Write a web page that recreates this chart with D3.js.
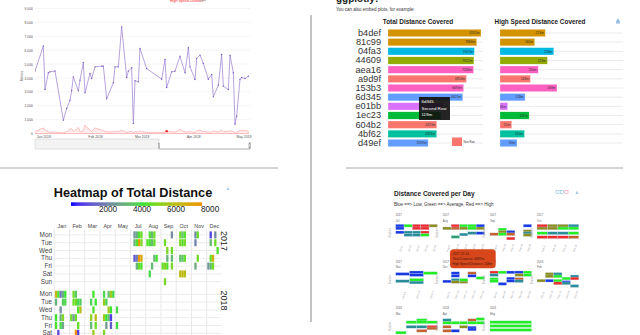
<!DOCTYPE html>
<html><head><meta charset="utf-8">
<script src="https://cdn.jsdelivr.net/npm/d3@7"></script>
<style>body{margin:0;background:#fff;overflow:hidden}svg{display:block}</style>
</head><body>
<svg id="c" width="640" height="335"></svg>
<script>
// ---------------- DATA ----------------
// daily total distance (m) – used by the heatmap and the line chart
const dayDates = [
"2017-07-03","2017-07-10","2017-07-17","2017-07-24","2017-07-04","2017-07-11","2017-07-18","2017-07-25",
"2017-07-06","2017-07-13","2017-07-20","2017-07-27","2017-07-14","2017-07-21","2017-07-28",
"2017-08-07","2017-08-14","2017-08-21","2017-08-01","2017-08-08","2017-08-15","2017-08-22","2017-08-24",
"2017-08-31","2017-08-18","2017-08-12",
"2017-09-25","2017-09-05","2017-09-13","2017-09-27","2017-09-28","2017-09-29","2017-09-14","2017-09-01",
"2017-09-08","2017-09-15","2017-09-10",
"2017-10-02","2017-10-09","2017-10-16","2017-10-03","2017-10-10","2017-10-17","2017-10-05","2017-10-12",
"2017-10-19","2017-10-07","2017-10-14","2017-10-21",
"2017-11-06","2017-11-13","2017-11-07","2017-11-16","2017-11-10",
"2017-12-04","2017-12-18","2017-12-05","2017-12-19","2017-12-07","2017-12-14","2017-12-01","2017-12-08","2017-12-15",
"2017-12-27","2018-01-01","2018-01-02","2018-01-04","2018-01-05","2018-01-08","2018-01-13","2018-01-15",
"2018-01-17","2018-01-18","2018-01-19","2018-01-22","2018-01-23","2018-01-25","2018-01-26","2018-01-29",
"2018-01-30","2018-02-01","2018-02-05","2018-02-06","2018-02-08","2018-02-12","2018-02-13","2018-02-15",
"2018-02-17","2018-02-20","2018-02-21","2018-02-23","2018-02-24","2018-02-25","2018-02-27","2018-02-28",
"2018-03-04","2018-03-13","2018-03-15","2018-03-16","2018-03-19","2018-03-21","2018-03-24","2018-03-27",
"2018-03-29","2018-03-30","2018-04-02","2018-04-03","2018-04-05","2018-04-07","2018-04-10","2018-04-12",
"2018-04-13","2018-04-16","2018-04-18","2018-04-19","2018-04-22","2018-04-23","2018-04-25","2018-04-26",
"2018-04-27","2018-04-29","2018-04-30","2018-05-02","2018-05-04"];
const dayTotals = [
2500,3000,4500,4800,3200,4500,7400,5000,
1000,2000,7500,7000,3200,4700,4500,
4500,3300,4800,4600,4400,3400,4700,3200,
4400,3300,4000,
2300,4800,5000,4800,3300,5000,3200,4700,
5200,4500,5000,
4800,3500,4600,5000,4600,4900,3600,3500,
4700,6200,6400,6100,
2200,4700,2100,4800,3000,
800,2200,3300,4800,4700,6687,2500,3300,4800,
4500,6300,3170,4370,4440,4500,960,1800,
2400,3100,4080,3070,3840,5110,2930,4320,
3960,4800,4850,4850,2500,3650,4800,4800,
7680,4030,4490,4730,720,3800,3720,6120,
4680,3910,5330,3310,4440,4490,5570,4370,
6170,4800,3890,5400,5640,5040,3910,4250,
2640,3480,5690,3410,3170,5640,4370,670,
1250,3890,4030,3960,4130];
// high speed distance (m) for the zoomed window of the line chart
const speedDates = ["2017-12-27","2018-01-01","2018-01-02","2018-01-04","2018-01-05","2018-01-08","2018-01-13",
"2018-01-15","2018-01-17","2018-01-18","2018-01-19","2018-01-22","2018-01-23","2018-01-25","2018-01-26",
"2018-01-29","2018-01-30","2018-02-01","2018-02-05","2018-02-06","2018-02-08","2018-02-12","2018-02-13",
"2018-02-15","2018-02-17","2018-02-20","2018-02-21","2018-02-23","2018-02-24","2018-02-25","2018-02-27",
"2018-02-28","2018-03-04","2018-03-13","2018-03-15","2018-03-16","2018-03-19","2018-03-21","2018-03-24",
"2018-03-27","2018-03-29","2018-03-30","2018-04-02","2018-04-03","2018-04-05","2018-04-07","2018-04-10",
"2018-04-12","2018-04-13","2018-04-16","2018-04-18","2018-04-19","2018-04-22","2018-04-23","2018-04-25",
"2018-04-26","2018-04-27","2018-04-29","2018-04-30","2018-05-02","2018-05-04"];
const speedValues = [150,400,250,120,100,100,50,150,290,360,150,430,120,200,600,240,150,400,250,200,120,120,150,
150,240,80,120,150,60,150,100,180,80,80,100,170,120,100,290,120,120,150,60,200,240,150,100,120,200,100,240,
150,150,200,150,60,80,250,200,220,150];
const yTicks = [0,1000,2000,3000,4000,5000,6000,7000,8000,9000];

// players bar chart
const players = ["b4def","81c99","04fa3","44609","aea16","a9d9f","153b3","6d345","e01bb","1ec23","604b2","4bf62","d49ef"];
const totalDist = [8241,7866,7657,7612,7583,6954,6694,6625,4900,4700,4323,4313,3559];
const highDist = [213,163,253,223,180,143,268,118,36,137,55,115,80];
const playerColors = ["#D39200","#D39200","#00B9E3","#93AA00","#FF61C3","#F8766D","#FF61C3","#619CFF","#DB72FB","#00BA38","#F8766D","#00C19F","#619CFF"];

// heatmap
const weekdays = ["Mon","Tue","Wed","Thu","Fri","Sat","Sun"];
const heatMonths = ["Jan","Feb","Mar","Apr","May","Jul","Aug","Sep","Oct","Nov","Dec"];
const heatYears = [2017,2018];
const legendTicks = [2000,4000,6000,8000];

// distance per day small multiples
const facetYears = [2017,2017,2017,2017,2017,2017,2018,2018,2018,2018,2018];
const facetMonths = ["Jul","Aug","Sep","Oct","Nov","Dec","Jan","Feb","Mar","Apr","May"];
const facetSlots = [5,5,5,4,3,5,5,5,4,5,1];
// [facet, bucket, from, to, level]
const segments = [
[0,0,0,1,"B"],[0,1,0,1,"B"],[0,0,1,2,"G"],[0,0,2,3,"R"],[0,1,2,3,"R"],[0,0,3,4,"R"],[0,1,3,4,"R"],[0,0,4,5,"O"],
[0,2.5,0,1,"B"],[0,2.5,1,2,"T"],[0,3.5,1,2,"T"],[0,2.5,2,3,"T"],[0,3.5,2,3,"T"],[0,2.5,3,4,"R"],[0,3.5,3,4,"G"],
[1,0,1,2,"R"],[1,0,2,3,"G"],[1,0,3,4,"G"],[1,0,4,5,"B"],[1,1,0,1,"O"],[1,1,1,2,"Br"],[1,1,2,3,"O"],[1,1,3,4,"G"],[1,1,4,5,"O"],
[1,2.8,3,4,"T"],[1,2.8,4,5,"B"],[1,3.3,2,3,"T"],[1,4.2,1,2,"Tg"],
[2,0,4,5,"B"],[2,1.4,1,2,"G"],[2,2.3,1,2,"O"],[2,2.3,2,3,"B"],[2,3.2,0,1,"Br"],[2,3.2,1,2,"G"],[2,3.2,2,3,"Br"],
[2,4.8,2,3,"R"],[2,2,4,5,"O"],[2,2.8,4,5,"T"],[2,3.5,4,5,"O"],
[3,0,0,1,"R"],[3,0,1,2,"O"],[3,0,2,3,"O"],[3,0,3,4,"T"],[3,1,0,1,"O"],[3,1,1,2,"O"],[3,1,2,3,"G"],[3,1,3,4,"G"],
[3,2.8,0,1,"G"],[3,2.8,1,2,"T"],[3,2.8,2,3,"T"],[3,2.8,3,4,"G"],[3,4.3,0,1,"R"],[3,4.3,1,2,"R"],[3,4.3,2,3,"R"],[3,4.3,3,4,"Br"],
[4,0.6,0,1,"B"],[4,0,1,2,"B"],[4,1,1,2,"B"],[4,0.3,2,3,"G"],[4,3.3,0,1,"T"],[4,2.8,1,2,"G"],[4,3.8,1,2,"T"],
[5,0.3,1,2,"B"],[5,1.3,1,2,"B"],[5,0.3,3,4,"Br"],[5,1.3,3,4,"B"],[5,2.1,4,5,"G"],[5,3.4,0,1,"B"],[5,2.8,1,2,"T"],
[5,3.6,1,2,"O"],[5,3.6,2,3,"O"],[5,2.8,2,3,"G"],
[6,0,0,1,"R"],[6,0,1,2,"G"],[6,0,2,3,"B"],[6,0,3,4,"B"],[6,0,4,5,"G"],[6,1,0,1,"T"],[6,1,3,4,"O"],[6,1,4,5,"G"],
[6,2.3,2,3,"B"],[6,3.2,2,3,"B"],[6,2.5,0,1,"G"],[6,3.3,0,1,"G"],[6,2.5,3,4,"Br"],[6,3.3,3,4,"T"],[6,4.3,1,2,"B"],
[7,0.6,1,2,"O"],[7,0.6,2,3,"T"],[7,1.5,1,2,"O"],[7,1.5,2,3,"G"],[7,1.5,4,5,"T"],[7,2.3,3,4,"G"],[7,2.3,4,5,"R"],
[7,3.1,0,1,"O"],[7,3.1,1,2,"B"],[7,3.1,2,3,"G"],[7,4.1,2,3,"R"],[7,3.6,3,4,"B"],[7,4.1,3,4,"T"],[7,5.1,4,5,"T"],
[8,0.4,2,3,"G"],[8,1.2,1,2,"G"],[8,1.2,2,3,"G"],[8,1.2,3,4,"G"],[8,2.9,1,2,"T"],[8,2.9,2,3,"T"],[8,2.9,3,4,"R"],
[8,3.5,3,4,"Br"],[8,4.4,2,3,"Br"],[8,5.1,0,1,"G"],
[9,0.4,0,1,"T"],[9,0.4,3,4,"Br"],[9,0,4,5,"G"],[9,1.4,0,1,"G"],[9,1.4,1,2,"G"],[9,1.4,2,3,"G"],[9,1.4,3,4,"G"],[9,1.4,4,5,"G"],
[9,2.9,0,1,"Br"],[9,2.9,2,3,"O"],[9,3.2,3,4,"B"],[9,3.9,3,4,"B"],[9,4.4,0,1,"Br"],[9,4.4,1,2,"B"],
[10,1.2,0,1,"G"],[10,2.6,0,1,"G"],[10,4.1,0,1,"G"]];
const levelColors = {B:"#1838e0",G:"#22ee22",R:"#ee2a2a",O:"#8d8d1e",T:"#2a8c96",Br:"#c4632e",Tg:"#2aa070"};

// ---------------- DRAW ----------------
const FONT = '"Liberation Sans", Arial, Helvetica, sans-serif';
const svg = d3.select("#c").attr("font-family", FONT);
const parse = d3.timeParse("%Y-%m-%d");

// ===== Panel 1 : line chart =====
const g1 = svg.append("g");
const lx = d3.scaleTime().domain([parse("2017-12-27"), parse("2018-05-05")]).range([35, 250]);
const ly = d3.scaleLinear().domain([0, 9000]).range([133.5, 8.5]);
g1.append("g").selectAll("line").data(yTicks).join("line")
  .attr("x1", 35).attr("x2", 250).attr("y1", d => ly(d)).attr("y2", d => ly(d))
  .attr("stroke", "#eeeeee").attr("stroke-width", 0.6);
const yAx = g1.append("g").attr("transform", "translate(34,0)")
  .call(d3.axisLeft(ly).tickValues(yTicks).tickSize(0).tickPadding(1));
yAx.select(".domain").remove();
yAx.selectAll("text").attr("font-size", 3.4).attr("fill", "#555").attr("font-family", FONT);
const xAx = g1.append("g").attr("transform", "translate(0,134.5)")
  .call(d3.axisBottom(lx).ticks(d3.timeMonth.every(1)).tickFormat(d3.timeFormat("%b %Y")).tickSize(0).tickPadding(1));
xAx.select(".domain").remove();
xAx.selectAll("text").attr("font-size", 3.4).attr("fill", "#555").attr("font-family", FONT);
g1.append("text").attr("transform", "translate(22.5,76) rotate(-90)").attr("text-anchor", "middle")
  .attr("font-size", 3.5).attr("fill", "#555").text("Meters");
g1.append("defs").append("clipPath").attr("id", "lc").append("rect").attr("x", 35).attr("y", 0).attr("width", 215.5).attr("height", 135);
const lineData = dayDates.map((d, i) => ({d: parse(d), v: dayTotals[i]})).filter(p => p.d >= lx.domain()[0] && p.d <= lx.domain()[1]);
const spData = speedDates.map((d, i) => ({d: parse(d), v: speedValues[i]}));
const cg = g1.append("g").attr("clip-path", "url(#lc)");
cg.append("path").datum(spData)
  .attr("d", d3.area().x(p => lx(p.d)).y0(ly(0)).y1(p => ly(p.v)))
  .attr("fill", "rgba(255,110,110,0.13)").attr("stroke", "#ff9c9c").attr("stroke-width", 0.6);
cg.append("path").datum(lineData)
  .attr("d", d3.line().x(p => lx(p.d)).y(p => ly(p.v)))
  .attr("fill", "none").attr("stroke", "#a48bd6").attr("stroke-width", 0.8);
cg.selectAll("circle.pt").data(lineData).join("circle").attr("class", "pt")
  .attr("cx", p => lx(p.d)).attr("cy", p => ly(p.v)).attr("r", 0.7).attr("fill", "#7a5cc0");
cg.append("circle").attr("cx", lx(parse("2018-03-16"))).attr("cy", ly(speedValues[speedDates.indexOf("2018-03-16")]))
  .attr("r", 1.2).attr("fill", "#ff2020");
// legend (cut at top)
g1.append("text").attr("x", 170).attr("y", 1.6).attr("font-size", 3.6).attr("fill", "#ff2a2a").text("High Speed Distance");
g1.append("line").attr("x1", 199).attr("x2", 206).attr("y1", 0.6).attr("y2", 0.6).attr("stroke", "#aaa").attr("stroke-width", 0.8);
// navigator
g1.append("rect").attr("x", 35).attr("y", 139).attr("width", 124).attr("height", 10).attr("fill", "#f3f3f3").attr("stroke", "#c8c8c8").attr("stroke-width", 0.5);
g1.append("line").attr("x1", 159).attr("x2", 250).attr("y1", 149).attr("y2", 149).attr("stroke", "#999").attr("stroke-width", 0.8);
g1.append("line").attr("x1", 250).attr("x2", 250).attr("y1", 142).attr("y2", 149).attr("stroke", "#999").attr("stroke-width", 0.8);
[159, 249.5].forEach(x => g1.append("rect").attr("x", x - 0.6).attr("y", 143).attr("width", 1.2).attr("height", 5)
  .attr("fill", "#ddd").attr("stroke", "#888").attr("stroke-width", 0.4));

// separators
svg.append("line").attr("x1", 311).attr("x2", 311).attr("y1", 15).attr("y2", 322).attr("stroke", "#9a9a9a").attr("stroke-width", 1.2);
svg.append("line").attr("x1", 0).attr("x2", 278).attr("y1", 168).attr("y2", 168).attr("stroke", "#aaa").attr("stroke-width", 1);
svg.append("line").attr("x1", 346).attr("x2", 623).attr("y1", 168).attr("y2", 168).attr("stroke", "#aaa").attr("stroke-width", 1);

// ===== Panel 2 : bar charts =====
const g2 = svg.append("g");
g2.append("text").attr("x", 336).attr("y", 2.3).attr("font-size", 10).attr("font-weight", "bold").attr("fill", "#222").text("ggplotly:");
g2.append("text").attr("x", 336).attr("y", 10.5).attr("font-size", 4.5).attr("fill", "#333").text("You can also embed plots, for example:");
g2.append("text").attr("x", 418).attr("y", 24).attr("text-anchor", "middle").attr("font-size", 6.4).attr("font-weight", "bold").attr("fill", "#222").text("Total Distance Covered");
g2.append("text").attr("x", 540).attr("y", 24).attr("text-anchor", "middle").attr("font-size", 6.4).attr("font-weight", "bold").attr("fill", "#222").text("High Speed Distance Covered");
g2.append("path").attr("d", "M616,22.5 L620,22.5 L618,18.5 Z M616,23.5 L620,23.5").attr("fill", "#86b6e0").attr("stroke", "#86b6e0").attr("stroke-width", 0.5);
g2.append("defs").append("clipPath").attr("id", "bc").append("rect").attr("x", 320).attr("y", 15).attr("width", 320).attr("height", 133.5);
const bg = g2.append("g").attr("clip-path", "url(#bc)");
const by = d3.scaleBand().domain(players).range([28.4, 147.6]).paddingInner(0.2).paddingOuter(0.1);
const bxL = d3.scaleLinear().domain([0, 8241]).range([388, 481]);
const bxR = d3.scaleLinear().domain([0, 268]).range([500, 557]);
const rows = players.map((p, i) => ({p, t: totalDist[i], h: highDist[i], c: playerColors[i]}));
[[388, 483], [500, 623]].forEach(([a, b]) => {
  bg.append("g").selectAll("line").data(players).join("line")
    .attr("x1", a).attr("x2", b).attr("y1", p => by(p) + by.bandwidth() / 2).attr("y2", p => by(p) + by.bandwidth() / 2)
    .attr("stroke", "#e6e6e6").attr("stroke-width", 0.8);
});
bg.selectAll("rect.l").data(rows).join("rect").attr("class", "l")
  .attr("x", bxL(0)).attr("y", r => by(r.p)).attr("width", r => bxL(r.t) - bxL(0)).attr("height", by.bandwidth())
  .attr("fill", r => r.c).attr("stroke", "#fff").attr("stroke-opacity", 0.6).attr("stroke-width", 0.4);
bg.selectAll("rect.r").data(rows).join("rect").attr("class", "r")
  .attr("x", bxR(0)).attr("y", r => by(r.p)).attr("width", r => bxR(r.h) - bxR(0)).attr("height", by.bandwidth())
  .attr("fill", r => r.c).attr("stroke", "#fff").attr("stroke-opacity", 0.6).attr("stroke-width", 0.4);
bg.selectAll("text.l").data(rows.filter(r => r.p !== "e01bb" && r.p !== "1ec23")).join("text").attr("class", "l")
  .attr("x", r => bxL(r.t) - 1.5).attr("y", r => by(r.p) + by.bandwidth() / 2 + 1.2).attr("text-anchor", "end")
  .attr("font-size", 3.3).attr("fill", "#333").text(r => r.t + "m");
bg.selectAll("text.r").data(rows).join("text").attr("class", "r")
  .attr("x", r => bxR(r.h) - 1.5).attr("y", r => by(r.p) + by.bandwidth() / 2 + 1.2).attr("text-anchor", "end")
  .attr("font-size", 3.3).attr("fill", "#333").text(r => r.h + "m");
const pAx = bg.append("g").attr("transform", "translate(381,0)").call(d3.axisLeft(by).tickSize(0).tickPadding(0));
pAx.select(".domain").remove();
pAx.selectAll("text").attr("font-size", 9.2).attr("fill", "#333").attr("font-family", FONT);
// tooltip + hover label
g2.append("rect").attr("x", 419).attr("y", 97).attr("width", 31).attr("height", 23).attr("fill", "#111").attr("opacity", 0.92);
["6d345", "Second Row", "119m"].forEach((t, i) => g2.append("text").attr("x", 421.5).attr("y", 103 + i * 6.6)
  .attr("font-size", 4.4).attr("fill", "#fff").text(t));
g2.append("rect").attr("x", 452).attr("y", 137.5).attr("width", 10).attr("height", 8.5).attr("fill", "#F8766D");
g2.append("text").attr("x", 463.5).attr("y", 143).attr("font-size", 2.6).attr("fill", "#444").text("Next Row");

// ===== Panel 3 : heatmap =====
const g3 = svg.append("g");
g3.append("text").attr("x", 133).attr("y", 196.5).attr("text-anchor", "middle").attr("font-size", 12.7)
  .attr("font-weight", "bold").attr("fill", "#111").text("Heatmap of Total Distance");
g3.append("path").attr("d", "M226.5,190 L229.5,190 L228,187 Z").attr("fill", "#a9c8e6");
const color = d3.scaleLinear().domain([0, 4300, 7700]).range(["#0000ff", "#2ee62e", "#f29000"]).interpolate(d3.interpolateLab);
const cb = d3.scaleLinear().domain([0, 7700]).range([71, 202]);
const grad = g3.append("defs").append("linearGradient").attr("id", "hg");
d3.range(0, 7701, 385).forEach(v => grad.append("stop").attr("offset", (v / 7700 * 100) + "%").attr("stop-color", color(v)));
g3.append("rect").attr("x", cb(0)).attr("y", 202.3).attr("width", cb(7700) - cb(0)).attr("height", 3.6).attr("fill", "url(#hg)");
g3.selectAll("text.lt").data(legendTicks).join("text").attr("class", "lt")
  .attr("x", d => cb(d) + 3).attr("y", 212.2).attr("text-anchor", "middle").attr("font-size", 8.2).attr("fill", "#222").text(d => d);
const panelX = d3.scaleBand().domain(heatMonths).range([54.3, 221.9]);
const rowY = {};
heatYears.forEach((yr, k) => { rowY[yr] = d3.scaleBand().domain(weekdays).range([231 + k * 59.4, 231 + k * 59.4 + 54.6]); });
const weekX = d3.scaleBand().domain(d3.range(6)).range([0.6, 14.4]);
// grid
heatMonths.forEach(m => {
  const L = panelX(m);
  g3.append("line").attr("x1", L).attr("x2", L).attr("y1", 229).attr("y2", 335).attr("stroke", "#e2e2e2").attr("stroke-width", 0.8);
  heatYears.forEach(yr => weekdays.forEach(wd => {
    const yy = rowY[yr](wd) + rowY[yr].bandwidth() / 2;
    g3.append("line").attr("x1", L).attr("x2", L + panelX.bandwidth() - 0.8).attr("y1", yy).attr("y2", yy)
      .attr("stroke", "#e6e6e6").attr("stroke-width", 0.8);
  }));
});
g3.selectAll("text.mo").data(heatMonths).join("text").attr("class", "mo")
  .attr("x", m => panelX(m) + panelX.bandwidth() / 2).attr("y", 227.6).attr("text-anchor", "middle")
  .attr("font-size", 5.4).attr("fill", "#444").text(m => m);
heatYears.forEach(yr => {
  const ax = g3.append("g").attr("transform", "translate(52,0)").call(d3.axisLeft(rowY[yr]).tickSize(0).tickPadding(0));
  ax.select(".domain").remove();
  ax.selectAll("text").attr("font-size", 6.4).attr("fill", "#444").attr("font-family", FONT);
  g3.append("text").attr("transform", `translate(221,${rowY[yr].range()[0]}) rotate(90)`)
    .attr("font-size", 9).attr("fill", "#222").text(yr);
});
const fmtM = d3.timeFormat("%b");
const cells = dayDates.map((s, i) => {
  const d = parse(s);
  return {d, v: dayTotals[i], m: fmtM(d), yr: d.getFullYear(), wd: weekdays[(d.getDay() + 6) % 7],
          wk: d3.timeMonday.count(d3.timeMonth(d), d)};
});
g3.selectAll("rect.cell").data(cells).join("rect").attr("class", "cell")
  .attr("x", c => panelX(c.m) + weekX(c.wk)).attr("y", c => rowY[c.yr](c.wd) + 0.4)
  .attr("width", weekX.bandwidth()).attr("height", c => rowY[c.yr].bandwidth() - 0.8)
  .attr("fill", c => color(c.v));

// ===== Panel 4 : distance per day =====
const g4 = svg.append("g");
g4.append("text").attr("x", 394).attr("y", 195.5).attr("font-size", 6.5).attr("font-weight", "bold").attr("fill", "#222").text("Distance Covered per Day");
g4.append("text").attr("x", 394).attr("y", 205.8).attr("font-size", 4.5).attr("fill", "#333").text("Blue ==> Low, Green ==> Average, Red ==> High");
[[557.5, "#8fbfe6"], [562, "#8fbfe6"], [566.5, "#f29bb0"]].forEach(([x, c]) => {
  g4.append("rect").attr("x", x - 1.5).attr("y", 190.5).attr("width", 3).attr("height", 3).attr("fill", "none").attr("stroke", c).attr("stroke-width", 0.6);
});
g4.append("path").attr("d", "M575.5,194 L578.5,194 L577,190.5 Z").attr("fill", "#a9c8e6");
const facetCol = d3.scaleBand().domain(d3.range(4)).range([395.7, 584.1]);
const facetRow = d3.scaleBand().domain(d3.range(3)).range([215, 355]);
const bucketY = d3.scaleLinear().domain([0, 5]).range([10.7, 24.05]);
facetMonths.forEach((m, f) => {
  const fx = facetCol(f % 4), fy = facetRow(Math.floor(f / 4));
  const sx = d3.scaleLinear().domain([0, facetSlots[f]]).range([fx, fx + 41.7]);
  const fg = g4.append("g");
  fg.append("text").attr("x", fx).attr("y", fy + 1).attr("font-size", 2.8).attr("fill", "#666").text(facetYears[f]);
  fg.append("text").attr("x", fx).attr("y", fy + 6.5).attr("font-size", 2.8).attr("fill", "#666").text(m);
  fg.append("text").attr("transform", `translate(${fx - 4.5},${fy + 18}) rotate(-90)`).attr("text-anchor", "middle")
    .attr("font-size", 3).attr("fill", "#aaa").text("Bucket");
  const segs = segments.filter(s => s[0] === f);
  fg.selectAll("rect").data(segs).join("rect")
    .attr("x", s => sx(s[2])).attr("y", s => fy + bucketY(s[1]) - 1.4)
    .attr("width", s => sx(s[3]) - sx(s[2])).attr("height", 2.8)
    .attr("fill", s => levelColors[s[4]]).attr("stroke", "#cfe0ff").attr("stroke-width", 0.35).attr("stroke-opacity", 0.8);
  const ticks = d3.range(facetSlots[f]).map(i => i + 0.5);
  fg.selectAll("text.tk").data(ticks).join("text").attr("class", "tk")
    .attr("transform", t => `translate(${sx(t) + 1},${fy + 37}) rotate(-70)`)
    .attr("font-size", 2.6).attr("fill", "#999").text((t, i) => m + " " + (i * 7 + 3));
});
// tooltip
g4.append("rect").attr("x", 450).attr("y", 249.3).attr("width", 45.7).attr("height", 19).attr("rx", 3.5).attr("fill", "#d8461b");
["2017-12-14", "Total Distance: 6687m", "High Speed Distance: 208m"].forEach((t, i) =>
  g4.append("text").attr("x", 452.5).attr("y", 255 + i * 5).attr("font-size", 3.2).attr("fill", "#3a1a0c").text(t));
</script>
</body></html>
